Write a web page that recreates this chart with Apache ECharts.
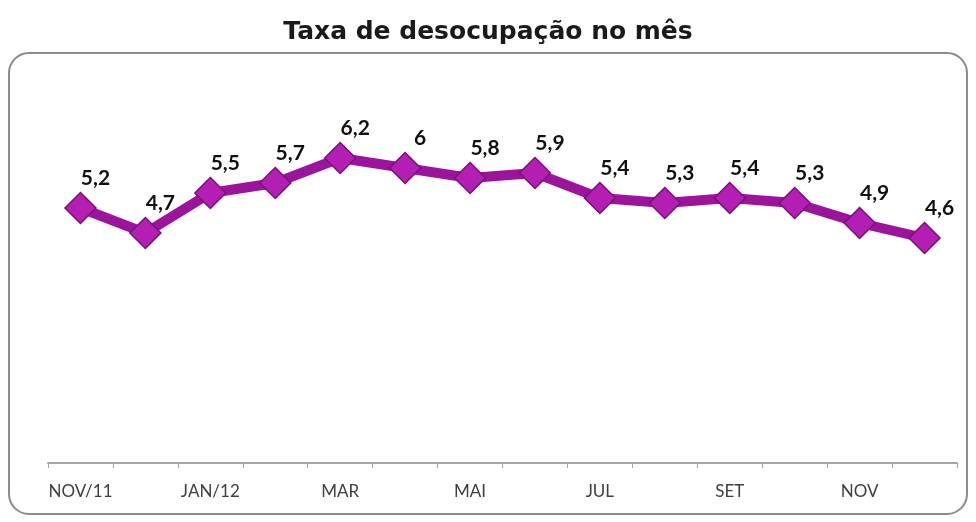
<!DOCTYPE html>
<html>
<head>
<meta charset="utf-8">
<script src="https://cdn.jsdelivr.net/npm/echarts@6/dist/echarts.min.js"></script>
<style>
  html, body { margin: 0; padding: 0; background: #fff; }
  #main { width: 976px; height: 522px; }
</style>
</head>
<body>
<div id="main"></div>
<script>
// meses (só um sim, um não aparece no eixo)
var months = ['NOV/11', 'DEZ', 'JAN/12', 'FEV', 'MAR', 'ABR', 'MAI', 'JUN', 'JUL', 'AGO', 'SET', 'OUT', 'NOV', 'DEZ'];
// taxa de desocupação (%)
var rates = [5.2, 4.7, 5.5, 5.7, 6.2, 6.0, 5.8, 5.9, 5.4, 5.3, 5.4, 5.3, 4.9, 4.6];

var chart = echarts.init(document.getElementById('main'));

var option = {
  animation: false,
  backgroundColor: '#fff',
  title: {
    text: 'Taxa de desocupação no mês',
    left: 'center',
    top: 15,
    textStyle: {
      fontFamily: 'DejaVu Sans',
      fontWeight: 'bold',
      fontSize: 25,
      color: '#1a1a1a'
    }
  },
  // moldura arredondada
  graphic: [{
    type: 'rect',
    shape: { x: 9, y: 53, width: 958, height: 461, r: 20 },
    style: { fill: 'none', stroke: '#8c8c8c', lineWidth: 2 },
    z: -1
  }],
  grid: {
    left: 48,
    right: 19,
    top: 93,
    bottom: 59
  },
  xAxis: {
    type: 'category',
    boundaryGap: true,
    data: months,
    axisLine: { lineStyle: { color: '#a6a6a6', width: 2 } },
    axisTick: {
      show: true,
      interval: 0,
      length: 5,
      lineStyle: { color: '#a6a6a6', width: 1 }
    },
    axisLabel: {
      interval: 1,
      margin: 20,
      fontFamily: 'Lato',
      fontSize: 17,
      color: '#404040'
    }
  },
  yAxis: {
    type: 'value',
    min: 0.1,
    max: 7.5,
    show: false,
    splitLine: { show: false }
  },
  series: [{
    type: 'line',
    data: rates,
    symbol: 'diamond',
    symbolSize: 31,
    lineStyle: { color: '#9c149c', width: 10 },
    itemStyle: { color: '#b21fb2', borderColor: '#7a0f7a', borderWidth: 1.5 },
    label: {
      show: true,
      position: 'top',
      offset: [15, 2],
      fontFamily: 'Lato',
      fontWeight: 'bold',
      fontSize: 21,
      color: '#111',
      formatter: function (p) {
        return String(p.value).replace('.', ',');
      }
    }
  }]
};

chart.setOption(option);
</script>
</body>
</html>
